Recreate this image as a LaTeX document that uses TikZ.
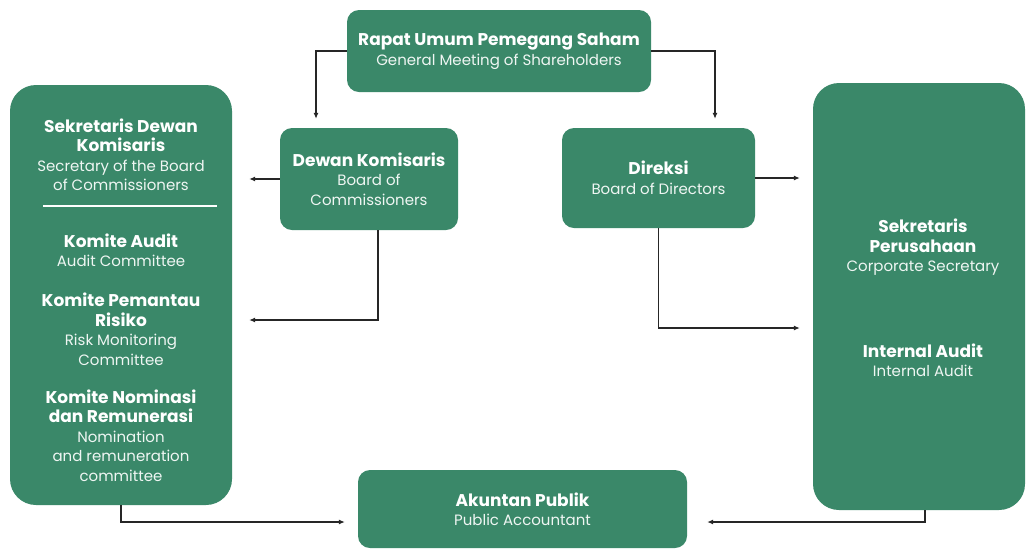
\documentclass[tikz,border=0pt]{standalone}
\usepackage{fontspec}
\setmainfont{Poppins}
\usetikzlibrary{arrows.meta,positioning}

\definecolor{boxgreen}{RGB}{58,136,105}

\newcommand{\idtext}[1]{{\bfseries\fontsize{17}{20}\selectfont #1}}
\newcommand{\entext}[1]{{\color{white!92!boxgreen}\fontsize{15}{20}\selectfont #1}}

\tikzset{
    box/.style={fill=boxgreen, rounded corners=12pt, text=white, align=center,
        font=\fontsize{15}{19.5}\selectfont},
    bigbox/.style={fill=boxgreen, rounded corners=26pt},
    lbl/.style={text=white, align=center, font=\fontsize{15}{19.5}\selectfont},
    conn/.style={-{Latex[length=6pt,width=5pt]}, line width=1.1pt, black!85},
}

\begin{document}
\begin{tikzpicture}[x=1pt, y=-1pt]
    \useasboundingbox (0,0) rectangle (1027,550);

    % Top
    \node[box, minimum width=304, minimum height=82] (rups) at (499,51)
        {\idtext{Rapat Umum Pemegang Saham}\\\entext{General Meeting of Shareholders}};

    % Boards
    \node[box, minimum width=178, minimum height=102] (dk) at (369,179)
        {\idtext{Dewan Komisaris}\\\entext{Board of}\\\entext{Commissioners}};
    \node[box, minimum width=193, minimum height=100] (dir) at (658.5,178)
        {\idtext{Direksi}\\\entext{Board of Directors}};

    % Left column
    \node[bigbox, minimum width=222, minimum height=420] (komite) at (121,295) {};
    \node[lbl] (sekdk) at (121,155)
        {\idtext{Sekretaris Dewan}\\\idtext{Komisaris}\\\entext{Secretary of the Board}\\\entext{of Commissioners}};
    \draw[white, line width=1.5pt] (43,206) -- (217,206);
    \node[lbl] (audit) at (121,250) {\idtext{Komite Audit}\\\entext{Audit Committee}};
    \node[lbl] (risiko) at (121,329)
        {\idtext{Komite Pemantau}\\\idtext{Risiko}\\\entext{Risk Monitoring}\\\entext{Committee}};
    \node[lbl] (nomrem) at (121,435.5)
        {\idtext{Komite Nominasi}\\\idtext{dan Remunerasi}\\\entext{Nomination}\\\entext{and remuneration}\\\entext{committee}};

    % Right column
    \node[bigbox, minimum width=212, minimum height=427] (unit) at (919,296.5) {};
    \node[lbl] (sekper) at (923,247.5)
        {\idtext{Sekretaris}\\\idtext{Perusahaan}\\\entext{Corporate Secretary}};
    \node[lbl] (ia) at (923,360) {\idtext{Internal Audit}\\\entext{Internal Audit}};

    % Bottom
    \node[box, minimum width=329, minimum height=78] (ap) at (522.5,509)
        {\idtext{Akuntan Publik}\\\entext{Public Accountant}};

    % Arrows
    \draw[conn] (rups.west) -| ([xshift=-53pt, yshift=9pt]dk.north);
    \draw[conn] (rups.east) -| ([xshift=56.5pt, yshift=9pt]dir.north);
    \draw[conn] (dk.west) -- ([xshift=17pt]komite.east |- dk.west);
    \draw[conn] (dir.east) -- ([xshift=-13pt]unit.west |- dir.east);
    \draw[conn] ([xshift=9pt]dk.south) |- ([xshift=17pt]komite.east |- 0,320);
    \draw[conn] (dir.south) |- ([xshift=-13pt]unit.west |- 0,328);
    \draw[conn] (komite.south) |- ([xshift=-13pt]ap.west |- 0,522);
    \draw[conn] ([xshift=6pt]unit.south) |- ([xshift=20pt]ap.east |- 0,522);
\end{tikzpicture}
\end{document}
